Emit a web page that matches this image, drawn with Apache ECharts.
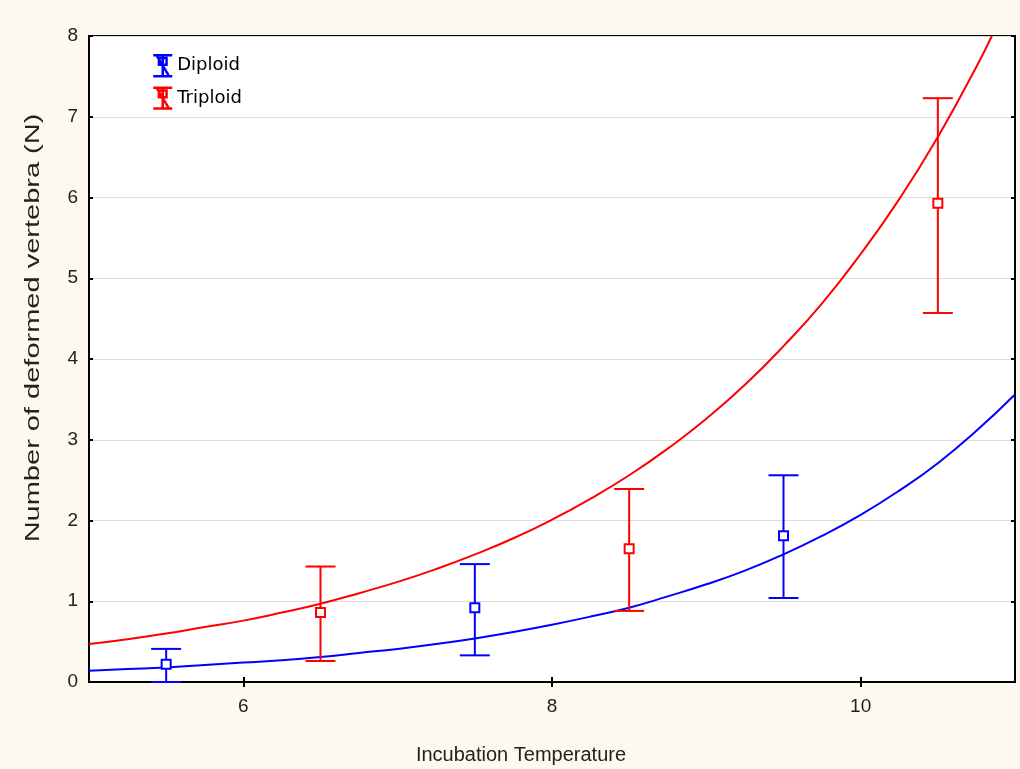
<!DOCTYPE html>
<html>
<head>
    <meta charset="utf-8">
    <title>ECharts</title>
    <script src="https://cdn.jsdelivr.net/npm/echarts@6/dist/echarts.min.js"></script>
</head>
<body style="margin:0;background:#fdf9ee;">
    <div id="main" style="width: 1020px;height:769px;"></div>
    <script type="text/javascript">
// means with error bars: [temperature, mean, low, high]
var diploidPoints = [
    [5.5, 0.22, 0.00, 0.41],
    [7.5, 0.92, 0.33, 1.46],
    [9.5, 1.81, 1.04, 2.56]
];
var triploidPoints = [
    [6.5, 0.86, 0.26, 1.43],
    [8.5, 1.65, 0.88, 2.39],
    [10.5, 5.93, 4.57, 7.23]
];
// fitted curves
var diploidCurve = [
    [5, 0.14], [5.25, 0.16], [5.5, 0.18], [5.75, 0.21], [6, 0.24], [6.25, 0.27],
    [6.5, 0.31], [6.75, 0.36], [7, 0.41], [7.25, 0.47], [7.5, 0.54], [7.75, 0.62],
    [8, 0.71], [8.25, 0.81], [8.5, 0.92], [8.75, 1.06], [9, 1.21], [9.25, 1.38],
    [9.5, 1.58], [9.75, 1.81], [10, 2.07], [10.25, 2.37], [10.5, 2.71], [10.75, 3.11], [11, 3.56]
];
var triploidCurve = [
    [5, 0.47], [5.25, 0.53], [5.5, 0.60], [5.75, 0.68], [6, 0.76], [6.25, 0.86],
    [6.5, 0.97], [6.75, 1.10], [7, 1.24], [7.25, 1.40], [7.5, 1.58], [7.75, 1.78],
    [8, 2.01], [8.25, 2.27], [8.5, 2.56], [8.75, 2.89], [9, 3.26], [9.25, 3.68],
    [9.5, 4.16], [9.75, 4.69], [10, 5.30], [10.25, 5.98], [10.5, 6.75], [10.75, 7.62], [10.85, 8.0]
];
var xTicks = [6, 8, 10];

var myChart = echarts.init(document.getElementById('main'));

var font = 'Liberation Sans, Arial, sans-serif';
var iconPath = 'path://M0,1H20M0,23H20M10,1V23M4,2L16,22M6,4H14V11H6Z';

function errorBars(name, color, pts) {
    return {
        name: name,
        type: 'custom',
        z: 3,
        data: pts.map(function (p) { return [p[0], p[2], p[3]]; }),
        renderItem: function (params, api) {
            var lo = api.coord([api.value(0), api.value(1)]);
            var hi = api.coord([api.value(0), api.value(2)]);
            var hw = 15;
            var st = { stroke: color, lineWidth: 2 };
            return {
                type: 'group',
                children: [
                    { type: 'line', shape: { x1: lo[0], y1: lo[1], x2: hi[0], y2: hi[1] }, style: st },
                    { type: 'line', shape: { x1: hi[0] - hw, y1: hi[1], x2: hi[0] + hw, y2: hi[1] }, style: st },
                    { type: 'line', shape: { x1: lo[0] - hw, y1: lo[1], x2: lo[0] + hw, y2: lo[1] }, style: st }
                ]
            };
        }
    };
}

function means(name, color, pts) {
    return {
        name: name,
        type: 'scatter',
        z: 4,
        symbol: 'rect',
        symbolSize: 9,
        itemStyle: { color: '#fff', borderColor: color, borderWidth: 2, opacity: 1 },
        data: pts.map(function (p) { return [p[0], p[1]]; })
    };
}

function curve(name, color, pts) {
    return {
        name: name,
        type: 'line',
        z: 2,
        smooth: true,
        showSymbol: false,
        lineStyle: { color: color, width: 2 },
        itemStyle: { color: color },
        data: pts
    };
}

option = {
    backgroundColor: '#fdf9ee',
    animation: false,
    grid: {
        left: 89, right: 5, top: 36, bottom: 87,
        outerBoundsMode: 'none',
        show: true, backgroundColor: '#fff', borderColor: '#000', borderWidth: 2
    },
    legend: {
        orient: 'vertical',
        left: 152, top: 54, padding: 0,
        itemWidth: 19, itemHeight: 22, itemGap: 9,
        textStyle: { fontFamily: 'DejaVu Sans', fontSize: 18, color: '#000' },
        data: [
            { name: 'Diploid', icon: iconPath, itemStyle: { color: '#fff', borderColor: '#0000ff', borderWidth: 2.5 } },
            { name: 'Triploid', icon: iconPath, itemStyle: { color: '#fff', borderColor: '#ff0000', borderWidth: 2.5 } }
        ]
    },
    graphic: [{
        type: 'text',
        x: 33, y: 328,
        rotation: Math.PI / 2,
        scaleX: 1.45,
        style: {
            text: 'Number of deformed vertebra (N)',
            fontFamily: font, fontSize: 20, fill: '#222',
            align: 'center', verticalAlign: 'middle'
        }
    }],
    xAxis: [{
        type: 'value', min: 5, max: 11,
        name: 'Incubation Temperature',
        nameLocation: 'middle', nameGap: 63,
        nameTextStyle: { fontFamily: font, fontSize: 20, color: '#222', padding: [0, 62, 0, 0] },
        axisLine: { lineStyle: { color: '#000', width: 2 } },
        axisTick: { inside: true, length: 5, customValues: xTicks, lineStyle: { color: '#000', width: 2 } },
        axisLabel: { customValues: xTicks, fontFamily: font, fontSize: 19, color: '#222', margin: 15 },
        splitLine: { show: false }
    }, {
        type: 'value', min: 5, max: 11, position: 'top',
        axisLine: { lineStyle: { color: '#000', width: 2 } },
        axisTick: { inside: true, length: 5, customValues: xTicks, lineStyle: { color: '#000', width: 2 } },
        axisLabel: { show: false },
        splitLine: { show: false }
    }],
    yAxis: [{
        type: 'value', min: 0, max: 8, interval: 1,
        axisLine: { show: true, lineStyle: { color: '#000', width: 2 } },
        axisTick: { show: true, inside: true, length: 4, lineStyle: { color: '#000', width: 2 } },
        axisLabel: { fontFamily: font, fontSize: 19, color: '#222', margin: 11 },
        splitLine: { show: true, lineStyle: { color: '#dcdcdc', width: 1 } }
    }, {
        type: 'value', min: 0, max: 8, interval: 1, position: 'right',
        axisLine: { show: true, lineStyle: { color: '#000', width: 2 } },
        axisTick: { show: true, inside: true, length: 4, lineStyle: { color: '#000', width: 2 } },
        axisLabel: { show: false },
        splitLine: { show: false }
    }],
    series: [
        curve('Diploid', '#0000ff', diploidCurve),
        curve('Triploid', '#ff0000', triploidCurve),
        errorBars('Diploid', '#0000ff', diploidPoints),
        errorBars('Triploid', '#ff0000', triploidPoints),
        means('Diploid', '#0000ff', diploidPoints),
        means('Triploid', '#ff0000', triploidPoints)
    ]
};
myChart.setOption(option);
    </script>
</body>
</html>
